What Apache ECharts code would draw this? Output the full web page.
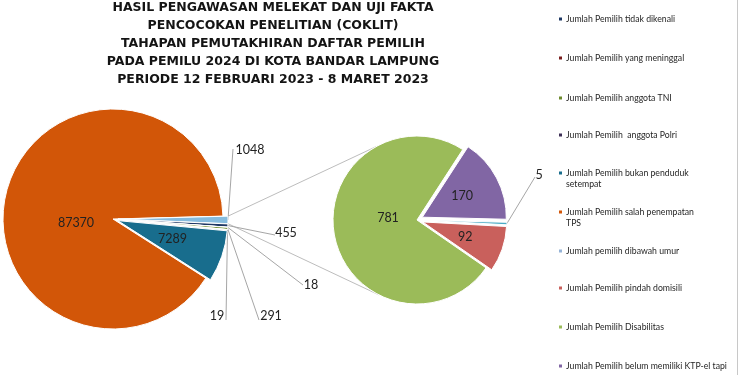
<!DOCTYPE html>
<html><head><meta charset="utf-8">
<script src="https://cdn.jsdelivr.net/npm/echarts@6/dist/echarts.min.js"></script>
<style>html,body{margin:0;padding:0;background:#fff}#c{width:750px;height:375px}</style>
</head><body><div id="c"></div>
<script>
// ---------- DATA ----------
const TITLE_LINES = [
  'HASIL PENGAWASAN MELEKAT DAN UJI FAKTA',
  'PENCOCOKAN PENELITIAN (COKLIT)',
  'TAHAPAN PEMUTAKHIRAN DAFTAR PEMILIH',
  'PADA PEMILU 2024 DI KOTA BANDAR LAMPUNG',
  'PERIODE 12 FEBRUARI 2023 - 8 MARET 2023'
];
// main pie (clockwise from the small slices)
const MAIN_NAMES = [
  'Lainnya',
  'Jumlah Pemilih tidak dikenali',
  'Jumlah Pemilih yang meninggal',
  'Jumlah Pemilih anggota TNI',
  'Jumlah Pemilih  anggota Polri',
  'Jumlah Pemilih bukan penduduk setempat',
  'Jumlah Pemilih salah penempatan TPS',
  'Jumlah pemilih dibawah umur'
];
const MAIN_VALUES = [1048, 455, 18, 291, 19, 7289, 87370, '-'];
// secondary pie (breakdown of "Lainnya")
const SEC_NAMES = [
  'Jumlah Pemilih belum memiliki KTP-el tapi',
  'Jumlah Pemilih lainnya',
  'Jumlah Pemilih pindah domisili',
  'Jumlah Pemilih Disabilitas'
];
const SEC_VALUES = [170, 5, 92, 781];
// legend (order as in reference)
const LEGEND_NAMES = [
  'Jumlah Pemilih tidak dikenali',
  'Jumlah Pemilih yang meninggal',
  'Jumlah Pemilih anggota TNI',
  'Jumlah Pemilih  anggota Polri',
  'Jumlah Pemilih bukan penduduk setempat',
  'Jumlah Pemilih salah penempatan TPS',
  'Jumlah pemilih dibawah umur',
  'Jumlah Pemilih pindah domisili',
  'Jumlah Pemilih Disabilitas',
  'Jumlah Pemilih belum memiliki KTP-el tapi'
];
const LEGEND_WRAP = {
  'Jumlah Pemilih bukan penduduk setempat': ['Jumlah Pemilih bukan penduduk', 'setempat'],
  'Jumlah Pemilih salah penempatan TPS': ['Jumlah Pemilih salah penempatan', 'TPS']
};

// ---------- STYLE / LAYOUT ----------
const MAIN_COLORS = ['#86BCDE', '#1F3864', '#7A1E1E', '#6E8B2E', '#3D2F56', '#186D8D', '#D25608', '#95B3D7'];
const SEC_COLORS = ['#8166A4', '#4BACC6', '#C9605C', '#9BBB59'];
const MAIN_CENTER = [113, 219], MAIN_R = 110, MAIN_START = 1.5, MAIN_OFFSET = 5;
const SEC_CENTER = [417, 220], SEC_R = 84, SEC_START = 57, SEC_OFFSET = 6;
// label text centres (inside labels via series, outside labels as text with leader lines)
const MAIN_LABEL_POS = [[250,150],[286,233],[311,285],[271,316],[217,316],[188,242],[76,223],null];
const SEC_LABEL_POS = [[467,199],[539,175],[474,238],[388,218]];
const MAIN_LEADER_END = [[233,149],[275,235],[303,285],[259,320],[226,320],null,null,null];
const SEC_LEADER_END = [null,[535,177],null,null];
const LEGEND_Y = [19, 58, 98, 135, 173, 212, 251, 288, 327, 366];
const FONT = 'Lato, "Open Sans", sans-serif';
const LABEL_FONT = '12.5px ' + FONT;

const chart = echarts.init(document.getElementById('c'), null, {renderer: 'canvas'});

function makeData(names, values, colors, unselected, leaderEnds) {
  return names.map((n, i) => ({
    name: n, value: values[i],
    selected: i !== unselected,
    itemStyle: {color: colors[i]},
    label: {show: values[i] !== '-' && !leaderEnds[i]}
  }));
}

function layoutFrom(arr) {
  return function (p) {
    const pos = arr[p.dataIndex];
    if (!pos) return {};
    return {x: pos[0], y: pos[1], align: 'center', verticalAlign: 'middle'};
  };
}

function pt(cx, cy, r, deg) { const a = deg * Math.PI / 180; return [cx + r * Math.cos(a), cy - r * Math.sin(a)]; }

// slice geometry (from data) for leader/connector lines
function sliceGeom(values, start, center, r, offset, skip) {
  const nums = values.map(v => (typeof v === 'number' ? v : 0));
  const tot = nums.reduce((a, b) => a + b, 0);
  let a = start;
  return nums.map((v, i) => {
    const span = v / tot * 360;
    const s = a, e = a - span, m = (s + e) / 2;
    a = e;
    const off = i === skip ? 0 : offset;
    const c = pt(center[0], center[1], off, m);
    return {s, e, m, c, edge: pt(c[0], c[1], r, m)};
  });
}
const mainG = sliceGeom(MAIN_VALUES, MAIN_START, MAIN_CENTER, MAIN_R, MAIN_OFFSET, 6);
const secG = sliceGeom(SEC_VALUES, SEC_START, SEC_CENTER, SEC_R, SEC_OFFSET, 3);

const LINE_COLOR = '#a6a6a6';
const graphics = [
  {type: 'text', x: 273, y: -1, style: {
    text: TITLE_LINES.join('\n'), align: 'center', verticalAlign: 'top',
    font: 'bold 12.5px "DejaVu Sans", sans-serif', lineHeight: 17.9, fill: '#141414',
    shadowColor: 'rgba(0,0,0,0.45)', shadowBlur: 3, shadowOffsetY: 1
  }},
  {type: 'line', x: 737.5, shape: {x1: 0, y1: 0, x2: 0, y2: 375}, style: {stroke: '#c8c8c8', lineWidth: 1}}
];
// connector lines from "Lainnya" slice to secondary pie
const og = mainG[0];
[[og.s, 119], [og.e, -117]].forEach(([mainA, secA]) => {
  const p = pt(og.c[0], og.c[1], MAIN_R, mainA);
  const q = pt(SEC_CENTER[0], SEC_CENTER[1], SEC_R, secA);
  graphics.push({type: 'line', shape: {x1: p[0], y1: p[1], x2: q[0], y2: q[1]}, style: {stroke: '#bdbdbd', lineWidth: 1}, z: 0});
});
// outside labels with leader lines
[[mainG, MAIN_LEADER_END, MAIN_LABEL_POS, MAIN_VALUES], [secG, SEC_LEADER_END, SEC_LABEL_POS, SEC_VALUES]].forEach(([g, ends, pos, vals]) => {
  ends.forEach((e, i) => {
    if (!e) return;
    graphics.push({type: 'line', shape: {x1: g[i].edge[0], y1: g[i].edge[1], x2: e[0], y2: e[1]},
      style: {stroke: LINE_COLOR, lineWidth: 1}, z: 0});
    graphics.push({type: 'text', x: pos[i][0], y: pos[i][1], style: {
      text: String(vals[i]), font: LABEL_FONT, fill: '#222', align: 'center', verticalAlign: 'middle'}});
  });
});
// wrapped second lines of legend entries
LEGEND_NAMES.forEach((n, i) => {
  const w = LEGEND_WRAP[n];
  if (w) graphics.push({type: 'text', x: 566, y: LEGEND_Y[i] + 11, style: {
    text: w[1], font: '8.7px ' + FONT, fill: '#262626', verticalAlign: 'middle'}});
});

const legends = LEGEND_NAMES.map((n, i) => ({
  data: [n], left: 557, top: LEGEND_Y[i] - 5, orient: 'vertical',
  itemWidth: 5, itemHeight: 5, itemGap: 0, padding: 0, selectedMode: false,
  icon: 'rect',
  formatter: nm => (LEGEND_WRAP[nm] ? LEGEND_WRAP[nm][0] : nm),
  textStyle: {fontFamily: FONT, fontSize: 8.7, color: '#262626', lineHeight: 10, padding: [0, 0, 0, -2]}
}));

function pieSeries(name, center, r, start, offset, data, labelPos) {
  return {
    type: 'pie', name, center, radius: r,
    startAngle: start, clockwise: true, silent: true,
    selectedMode: 'multiple', selectedOffset: offset,
    avoidLabelOverlap: false,
    itemStyle: {borderColor: '#fff', borderWidth: 1},
    select: {itemStyle: {borderColor: '#fff', borderWidth: 1}},
    label: {position: 'inside', fontFamily: FONT, fontSize: 12.5, color: '#222', formatter: '{c}'},
    labelLine: {show: false},
    labelLayout: layoutFrom(labelPos),
    data, z: 2
  };
}

chart.setOption({
  animation: false,
  backgroundColor: '#fff',
  legend: legends,
  graphic: graphics,
  series: [
    pieSeries('utama', MAIN_CENTER, MAIN_R, MAIN_START, MAIN_OFFSET,
      makeData(MAIN_NAMES, MAIN_VALUES, MAIN_COLORS, 6, MAIN_LEADER_END), MAIN_LABEL_POS),
    pieSeries('rincian', SEC_CENTER, SEC_R, SEC_START, SEC_OFFSET,
      makeData(SEC_NAMES, SEC_VALUES, SEC_COLORS, 3, SEC_LEADER_END), SEC_LABEL_POS)
  ]
});
</script></body></html>
